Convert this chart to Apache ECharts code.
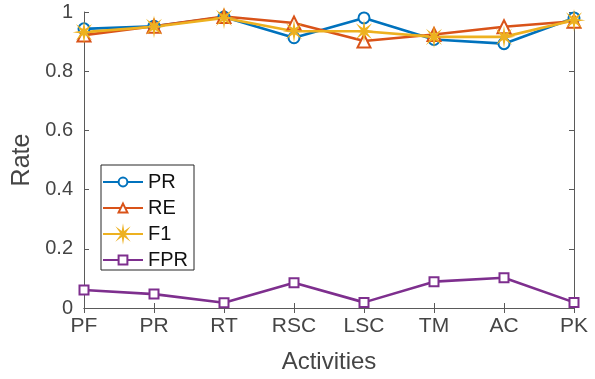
<!DOCTYPE html>
<html><head><meta charset="utf-8">
<script src="https://cdn.jsdelivr.net/npm/echarts@6/dist/echarts.min.js"></script>
<style>html,body{margin:0;padding:0;background:#fff}#c{width:595px;height:379px}</style>
</head><body><div id="c"></div>
<script>
const categories = ['PF','PR','RT','RSC','LSC','TM','AC','PK'];
const prValues  = [0.943, 0.952, 0.983, 0.913, 0.980, 0.907, 0.893, 0.980];
const reValues  = [0.922, 0.952, 0.985, 0.963, 0.902, 0.924, 0.950, 0.969];
const f1Values  = [0.932, 0.950, 0.980, 0.935, 0.935, 0.916, 0.916, 0.972];
const fprValues = [0.061, 0.047, 0.018, 0.085, 0.019, 0.089, 0.102, 0.019];
const yTicks = [0, 0.2, 0.4, 0.6, 0.8, 1];

// asterisk marker path
let pts = [];
for (let i = 0; i < 16; i++) {
  const a = Math.PI * i / 8;
  const r = (i % 2 === 0) ? 10 : 3;
  pts.push((10 + r * Math.sin(a)).toFixed(2) + ' ' + (10 - r * Math.cos(a)).toFixed(2));
}
const star = 'path://M' + pts.join(' L') + ' Z';

const font = 'Liberation Sans, Arial, Helvetica, sans-serif';
const txtCol = '#454545';
const axCol = '#5a5a5a';
const chart = echarts.init(document.getElementById('c'));
function mk(name, data, color, symbol, size) {
  return {
    name, type: 'line', data, symbol, symbolSize: size,
    lineStyle: { color, width: 2.6 },
    itemStyle: { color, borderColor: color, borderWidth: 2 },
    showAllSymbol: true, animation: false, z: 3
  };
}
chart.setOption({
  animation: false,
  textStyle: { fontFamily: font },
  grid: { left: 84, right: 21, top: 12, bottom: 68 },
  legend: {
    orient: 'vertical', left: 101, top: 165,
    itemWidth: 40, itemHeight: 11, itemGap: 6,
    padding: [7, 6, 0, 1],
    borderColor: '#262626', borderWidth: 1, backgroundColor: '#fff',
    textStyle: { fontSize: 20, color: '#111', fontFamily: font },
    data: ['PR','RE','F1','FPR']
  },
  xAxis: [{
    type: 'category', data: categories, boundaryGap: false,
    name: 'Activities', nameLocation: 'middle', nameGap: 42,
    nameTextStyle: { fontSize: 24, color: txtCol, fontFamily: font },
    axisLine: { lineStyle: { color: axCol, width: 1 } },
    axisTick: { inside: true, length: 5, alignWithLabel: true, lineStyle: { color: axCol } },
    axisLabel: { fontSize: 21, color: txtCol, margin: 8, fontFamily: font },
    splitLine: { show: false }
  }, {
    type: 'category', data: categories, boundaryGap: false, position: 'top',
    axisLine: { lineStyle: { color: axCol, width: 1 } },
    axisTick: { inside: true, length: 5, lineStyle: { color: axCol } },
    axisLabel: { show: false }, splitLine: { show: false }
  }],
  yAxis: [{
    type: 'value', min: 0, max: 1, interval: 0.2,
    name: 'Rate', nameLocation: 'middle', nameGap: 47,
    nameTextStyle: { fontSize: 25, color: txtCol, fontFamily: font },
    axisLine: { show: true, lineStyle: { color: axCol, width: 1 } },
    axisTick: { show: true, inside: true, length: 5, lineStyle: { color: axCol } },
    axisLabel: { fontSize: 20, color: txtCol, margin: 11, fontFamily: font,
      formatter: v => { const t = yTicks.find(x => Math.abs(x - v) < 1e-9); return t === undefined ? '' : String(t); } },
    splitLine: { show: false }
  }, {
    type: 'value', min: 0, max: 1, interval: 0.2, position: 'right',
    axisLine: { show: true, lineStyle: { color: axCol, width: 1 } },
    axisTick: { show: true, inside: true, length: 5, lineStyle: { color: axCol } },
    axisLabel: { show: false }, splitLine: { show: false }
  }],
  series: [
    mk('PR', prValues, '#0072BD', 'emptyCircle', 11),
    mk('RE', reValues, '#D95319', 'emptyTriangle', 13),
    mk('F1', f1Values, '#EDB120', star, 10),
    mk('FPR', fprValues, '#7E2F8E', 'emptyRect', 9)
  ]
});
</script></body></html>
